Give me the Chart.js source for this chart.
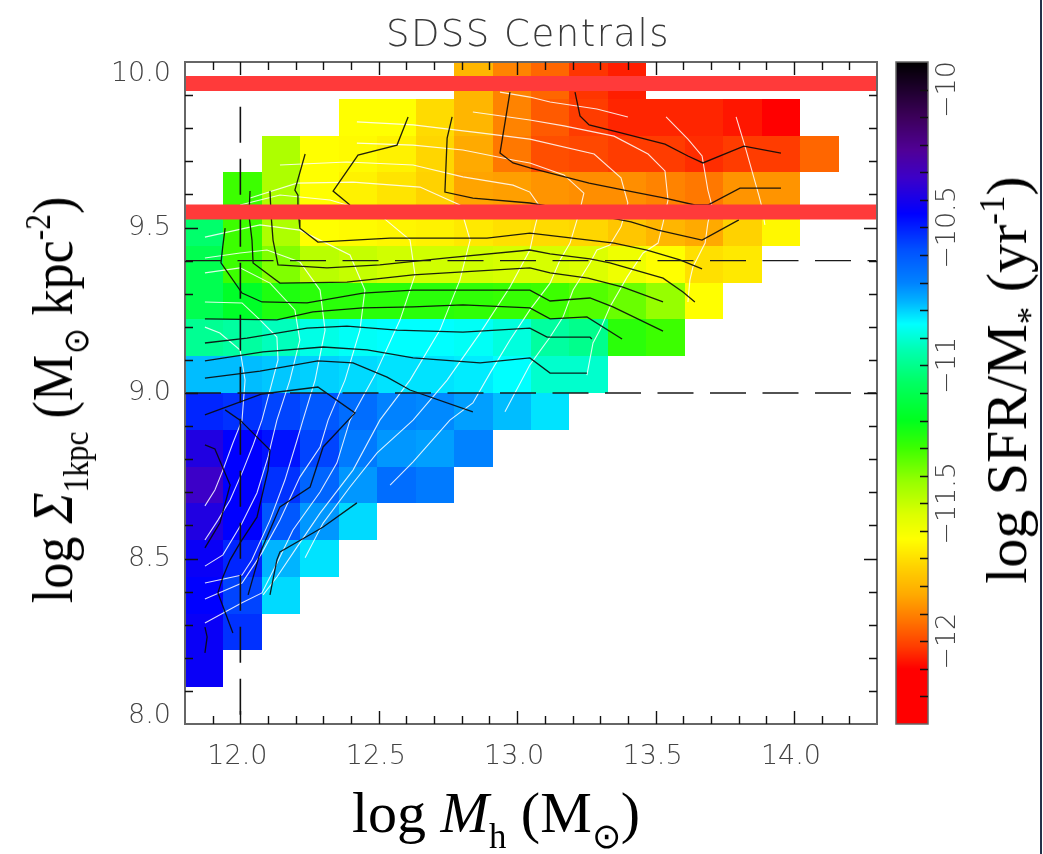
<!DOCTYPE html>
<html><head><meta charset="utf-8">
<script src="https://cdn.jsdelivr.net/npm/chart.js@4.4.1/dist/chart.umd.min.js"></script>
<style>
html,body{margin:0;padding:0;background:#fff;}
#wrap{position:relative;width:1043px;height:854px;overflow:hidden;background:#fff;}
canvas{position:absolute;top:0;}
#main{left:0;}
#cbar{left:880px;}
#title{position:absolute;left:528px;top:15px;transform:translateX(-50%);font-family:"DejaVu Sans",sans-serif;font-weight:200;font-size:37px;line-height:37px;letter-spacing:1.5px;color:#3a3a3a;white-space:nowrap;}
.lbl{position:absolute;font-family:"Liberation Serif","Times New Roman",serif;font-size:58px;line-height:58px;color:#000;white-space:nowrap;}
.lbl sub,.lbl sup{font-size:0.6em;line-height:0;}
.lbl sub{vertical-align:-0.45em;}
.lbl sup{vertical-align:0.62em;}
#xlab{left:496px;top:784px;transform:translateX(-50%);}
#ylab{left:53px;top:400px;transform:translate(-50%,-50%) rotate(-90deg) scaleX(0.9);}
#cblab{left:1007px;top:380px;transform:translate(-50%,-50%) rotate(-90deg);}
#edge{position:absolute;left:1040px;top:0;width:2px;height:854px;background:#24324a;}
</style></head>
<body>
<div id="wrap">
<canvas id="main" width="1043" height="854"></canvas>
<canvas id="cbar" width="163" height="854"></canvas>
<div id="title">SDSS Centrals</div>
<div id="xlab" class="lbl">log <i>M</i><sub>h</sub> (M<sub>⊙</sub>)</div>
<div id="ylab" class="lbl">log <i>Σ</i><sub>1kpc</sub> (M<sub>⊙</sub> kpc<sup>-2</sup>)</div>
<div id="cblab" class="lbl">log SFR/M<sub>*</sub> (yr<sup>-1</sup>)</div>
<div id="edge"></div>
</div>
<script>
// ---------------- DATA ----------------
const massRange = [11.8, 14.3];        // log Mh axis range
const densityRange = [8.0, 10.0];      // log Sigma_1kpc axis range
const nMassBins = 18;
const nDensityBins = 18;
const massTicks = [12.0, 12.5, 13.0, 13.5, 14.0];
const densityTicks = [8.0, 8.5, 9.0, 9.5, 10.0];
const ssfrRange = [-12.3, -9.9];
const ssfrTicks = [-10, -10.5, -11, -11.5, -12];

// log sSFR per cell; rows from low to high Sigma_1kpc, columns from low to high Mh
const ssfrGrid = [
  [],
  [-10.43],
  [-10.43,-10.53],
  [-10.45,-10.56,-10.81],
  [-10.43,-10.51,-10.77,-10.82],
  [-10.38,-10.45,-10.60,-10.73,-10.81],
  [-10.32,-10.45,-10.53,-10.63,-10.73,-10.65,-10.68],
  [-10.38,-10.45,-10.48,-10.56,-10.68,-10.73,-10.74,-10.70],
  [-10.51,-10.53,-10.56,-10.60,-10.65,-10.70,-10.71,-10.74,-10.78,-10.82],
  [-10.78,-10.78,-10.79,-10.80,-10.81,-10.82,-10.82,-10.83,-10.85,-10.91,-10.91],
  [-10.99,-10.97,-10.93,-10.88,-10.86,-10.85,-10.85,-10.86,-10.89,-10.97,-11.00,-11.27,-11.30],
  [-11.10,-11.18,-11.25,-11.27,-11.27,-11.27,-11.27,-11.28,-11.29,-11.30,-11.33,-11.36,-11.42,-11.63],
  [-11.10,-11.30,-11.39,-11.48,-11.50,-11.52,-11.52,-11.52,-11.53,-11.53,-11.54,-11.59,-11.63,-11.70,-11.68],
  [-11.05,-11.30,-11.46,-11.63,-11.64,-11.65,-11.66,-11.68,-11.70,-11.71,-11.72,-11.76,-11.80,-11.83,-11.73,-11.645],
  [null,-11.30,-11.46,-11.63,-11.66,-11.69,-11.73,-11.84,-11.85,-11.87,-11.88,-11.88,-11.90,-11.92,-11.87,-11.87],
  [null,null,-11.46,-11.63,-11.64,-11.66,-11.72,-11.83,-11.92,-11.99,-12.00,-12.02,-12.02,-12.04,-12.02,-12.02,-11.95],
  [null,null,null,null,-11.63,-11.63,-11.71,-11.80,-11.90,-11.97,-12.02,-12.05,-12.05,-12.05,-12.07,-12.12],
  [null,null,null,null,null,null,null,-11.80,-11.90,-11.95,-12.03,-12.06]
];

// white contours (m = log Mh, s = log Sigma_1kpc)
const whiteContours = [
  {m:[11.872,11.908,11.937,11.973,12.006,12.017,11.999,11.926,11.872], s:[8.659,8.707,8.767,8.849,8.918,9.039,9.130,9.181,9.199]},
  {m:[11.872,11.919,11.963,12.010,12.046,12.078,12.107,12.136,12.132,12.071,12.006,11.872], s:[8.556,8.616,8.677,8.767,8.843,8.918,9.009,9.100,9.169,9.221,9.272,9.275]},
  {m:[11.872,11.937,12.006,12.060,12.100,12.132,12.179,12.215,12.197,12.107,11.999,11.872], s:[8.477,8.511,8.607,8.698,8.807,8.918,9.039,9.160,9.251,9.332,9.378,9.363]},
  {m:[11.872,12.006,12.042,12.107,12.161,12.205,12.226,12.270,12.306,12.288,12.215,12.096,11.999,11.872], s:[8.426,8.450,8.496,8.616,8.737,8.858,8.918,9.039,9.190,9.311,9.396,9.432,9.423,9.408]},
  {m:[11.872,12.006,12.078,12.143,12.215,12.288,12.317,12.378,12.432,12.450,12.396,12.215,12.071,11.872], s:[8.378,8.426,8.517,8.616,8.746,8.837,8.918,9.039,9.190,9.311,9.417,9.492,9.508,9.471]},
  {m:[11.872,12.006,12.078,12.132,12.190,12.288,12.349,12.396,12.486,12.577,12.631,12.613,12.504,12.324,12.143,11.999], s:[8.305,8.366,8.396,8.486,8.586,8.701,8.789,8.918,9.054,9.221,9.357,9.462,9.538,9.583,9.598,9.568]},
  {m:[12.082,12.132,12.205,12.288,12.407,12.504,12.613,12.721,12.793,12.830,12.793,12.649,12.407,12.205,12.035], s:[8.390,8.444,8.535,8.637,8.767,8.918,9.039,9.190,9.341,9.462,9.568,9.622,9.637,9.634,9.589]},
  {m:[12.234,12.299,12.396,12.494,12.624,12.747,12.866,12.974,13.046,13.064,13.083,13.046,12.985,12.804,12.624,12.385,12.143], s:[8.502,8.607,8.716,8.819,8.918,9.039,9.181,9.320,9.432,9.502,9.562,9.607,9.628,9.653,9.689,9.698,9.689]},
  {m:[12.541,12.624,12.757,12.840,12.902,12.974,13.046,13.119,13.155,13.191,13.227,13.241,13.169,13.046,12.985,12.804,12.624,12.421], s:[8.722,8.792,8.918,8.970,9.060,9.160,9.251,9.332,9.402,9.453,9.553,9.604,9.659,9.695,9.704,9.734,9.749,9.755]},
  {m:[12.956,13.046,13.119,13.166,13.202,13.263,13.288,13.335,13.375,13.400,13.375,13.278,13.046,12.866,12.624,12.421], s:[8.943,9.085,9.169,9.230,9.311,9.393,9.432,9.447,9.502,9.574,9.650,9.722,9.767,9.786,9.810,9.819]},
  {m:[13.252,13.274,13.299,13.335,13.397,13.455,13.509,13.527,13.545,13.534,13.473,13.350,13.169,13.046,12.840], s:[9.054,9.151,9.190,9.260,9.350,9.423,9.453,9.514,9.583,9.671,9.722,9.776,9.807,9.825,9.849]},
  {m:[12.938,13.046,13.119,13.288,13.400], s:[9.909,9.894,9.879,9.858,9.834]},
  {m:[13.538,13.617,13.668,13.689,13.704,13.689,13.679,13.635,13.624,13.617], s:[9.834,9.767,9.716,9.613,9.565,9.514,9.453,9.381,9.341,9.275]},
  {m:[13.791,13.823,13.874,13.884,13.895], s:[9.834,9.746,9.595,9.562,9.508]}
];

// black contours
const blackContours = [
  {m:[12.606,12.566,12.425,12.335,12.396], s:[9.834,9.749,9.719,9.610,9.568]},
  {m:[12.765,12.747,12.739,12.840,13.046,13.227,13.411,13.509,13.668,13.801], s:[9.834,9.770,9.607,9.589,9.574,9.547,9.517,9.492,9.462,9.523]},
  {m:[12.974,12.938,12.985,13.046,13.260,13.386,13.534,13.642,13.689,13.805,13.953], s:[9.909,9.725,9.695,9.680,9.634,9.613,9.589,9.568,9.568,9.619,9.619]},
  {m:[13.209,13.227,13.260,13.361,13.534,13.617,13.671,13.819,13.953], s:[9.909,9.837,9.810,9.789,9.752,9.716,9.695,9.746,9.725]},
  {m:[12.234,12.197,12.208,12.208,12.212,12.215,12.280,12.541,12.747,12.891,13.046,13.169,13.350,13.469,13.588,13.668], s:[9.722,9.613,9.598,9.568,9.523,9.498,9.456,9.468,9.468,9.468,9.483,9.471,9.453,9.432,9.402,9.375]},
  {m:[12.107,12.111,12.118,12.136,12.313,12.504,12.747,13.046,13.119,13.263,13.335,13.527,13.599,13.642], s:[9.610,9.538,9.462,9.387,9.378,9.387,9.408,9.432,9.420,9.405,9.393,9.347,9.305,9.275]},
  {m:[12.035,12.031,12.042,12.046,12.143,12.385,12.624,12.804,13.046,13.119,13.256,13.382,13.527], s:[9.610,9.538,9.462,9.393,9.332,9.335,9.357,9.366,9.378,9.363,9.347,9.320,9.275]},
  {m:[11.945,11.937,11.930,12.006,12.078,12.241,12.443,12.624,12.804,13.046,13.119,13.263,13.346,13.527], s:[9.498,9.447,9.393,9.302,9.275,9.272,9.302,9.311,9.311,9.311,9.278,9.287,9.260,9.187]},
  {m:[11.872,12.132,12.262,12.443,12.624,12.804,13.046,13.119,13.252,13.379], s:[9.224,9.221,9.245,9.257,9.260,9.266,9.257,9.224,9.230,9.163]},
  {m:[11.872,12.024,12.241,12.385,12.566,12.804,13.046,13.108,13.263,13.270], s:[9.151,9.166,9.196,9.202,9.190,9.184,9.196,9.169,9.169,9.163]},
  {m:[11.872,12.082,12.299,12.458,12.624,12.866,13.046,13.119,13.252], s:[9.097,9.124,9.139,9.130,9.106,9.091,9.106,9.060,9.060]},
  {m:[11.872,12.071,12.280,12.407,12.530,12.613,12.840], s:[9.045,9.066,9.097,9.091,9.048,9.009,8.943]},
  {m:[11.872,11.908,11.963,11.926,11.872], s:[8.843,8.831,8.722,8.607,8.532]},
  {m:[11.945,11.999,12.107,12.100,12.060,11.999,11.963,11.937,11.919,11.973], s:[8.949,8.918,8.828,8.767,8.625,8.547,8.496,8.444,8.396,8.275]},
  {m:[11.872,12.078,12.280,12.414,12.299,12.252,12.143,12.107,12.071,12.028], s:[8.934,8.997,9.018,8.940,8.837,8.716,8.656,8.586,8.517,8.390]},
  {m:[12.421,12.299,12.262,12.143,12.132,12.107], s:[8.668,8.595,8.577,8.520,8.496,8.390]},
  {m:[11.872,11.880,11.872], s:[8.293,8.263,8.215]}
];

const redBandLevels = [9.935, 9.547];      // highlighted Sigma_1kpc bands
const dashedDensityLevels = [9.4, 9.0];    // horizontal dashed lines
const dashedMassLevel = 12.0;              // vertical dashed line
const dashedMassExtent = [9.865, 8.0];

// ---------------- STYLE ----------------
const cmapStops = [
  [-12.30,[255,0,0]],[-12.10,[255,0,0]],[-12.02,[255,60,0]],[-11.92,[255,120,0]],
  [-11.83,[255,170,0]],[-11.73,[255,210,0]],[-11.63,[255,255,0]],[-11.54,[220,255,0]],
  [-11.42,[150,255,0]],[-11.30,[60,255,0]],[-11.20,[0,255,30]],[-11.06,[0,255,100]],
  [-10.94,[0,255,180]],[-10.85,[0,255,255]],[-10.77,[0,180,255]],[-10.70,[0,130,255]],
  [-10.58,[0,80,255]],[-10.45,[0,0,255]],[-10.32,[60,0,200]],[-10.22,[80,0,150]],
  [-10.10,[60,0,90]],[-9.90,[0,0,0]]
];
function cmap(v){
  if (v <= cmapStops[0][0]) return 'rgb('+cmapStops[0][1].join(',')+')';
  for (let k=1;k<cmapStops.length;k++){
    if (v <= cmapStops[k][0]){
      const [v0,c0]=cmapStops[k-1],[v1,c1]=cmapStops[k];
      const t=(v-v0)/(v1-v0);
      return 'rgb('+c0.map((c,i)=>Math.round(c+(c1[i]-c)*t)).join(',')+')';
    }
  }
  return 'rgb('+cmapStops[cmapStops.length-1][1].join(',')+')';
}
const TICK_FONT = '200 27px "DejaVu Sans", sans-serif';
const TICK_COLOR = '#444';
const near = (a,b)=>Math.abs(a-b)<1e-6;

// ---------------- MAIN CHART ----------------
const datasets = [];
redBandLevels.forEach(l => datasets.push({
  data:[{x:massRange[0],y:l},{x:massRange[1],y:l}], showLine:true, borderColor:'#ff3a3a',
  borderWidth:15, borderCapStyle:'butt', pointRadius:0, order:0
}));
dashedDensityLevels.forEach(l => datasets.push({
  data:[{x:massRange[0],y:l},{x:massRange[1],y:l}], showLine:true, borderColor:'#1a1a1a',
  borderWidth:1.3, borderDash:[36,16.5], pointRadius:0, order:1
}));
datasets.push({
  data:[{x:dashedMassLevel,y:dashedMassExtent[0]},{x:dashedMassLevel,y:dashedMassExtent[1]}], showLine:true,
  borderColor:'#111', borderWidth:1.6, borderDash:[36,16], pointRadius:0, order:1
});
blackContours.forEach(c => datasets.push({
  data:c.m.map((m,k)=>({x:m,y:c.s[k]})), showLine:true, borderColor:'rgba(10,10,10,0.9)',
  borderWidth:1.3, pointRadius:0, order:2
}));
whiteContours.forEach(c => datasets.push({
  data:c.m.map((m,k)=>({x:m,y:c.s[k]})), showLine:true, borderColor:'rgba(255,255,255,0.85)',
  borderWidth:1.1, pointRadius:0, order:3
}));

const heatmapPlugin = {
  id:'heatmap',
  beforeDatasetsDraw(chart){
    const {ctx, scales:{x,y}} = chart;
    const dm = (massRange[1]-massRange[0])/nMassBins;
    const ds = (densityRange[1]-densityRange[0])/nDensityBins;
    ctx.save();
    ssfrGrid.forEach((row,i)=>{
      const s0 = densityRange[0]+i*ds, s1 = s0+ds;
      row.forEach((v,j)=>{
        if (v===null || v===undefined) return;
        const m0 = massRange[0]+j*dm, m1 = m0+dm;
        const px0 = Math.round(x.getPixelForValue(m0)), px1 = Math.round(x.getPixelForValue(m1));
        const py0 = Math.round(y.getPixelForValue(s1)), py1 = Math.round(y.getPixelForValue(s0));
        ctx.fillStyle = cmap(v);
        ctx.fillRect(px0,py0,px1-px0,py1-py0);
      });
    });
    ctx.restore();
  },
  afterDatasetsDraw(chart){
    const {ctx, chartArea:a, scales:{x,y}} = chart;
    ctx.save();
    ctx.strokeStyle='#666'; ctx.lineWidth=2;
    ctx.strokeRect(a.left,a.top,a.right-a.left,a.bottom-a.top);
    ctx.strokeStyle='#111'; ctx.lineWidth=1.4;
    ctx.beginPath();
    for (let k=1;k<25;k++){
      const v = massRange[0]+k*0.1;
      const px = Math.round(x.getPixelForValue(v))+0.5;
      const L = massTicks.some(t=>near(t,v)) ? 13 : 8;
      ctx.moveTo(px,a.bottom); ctx.lineTo(px,a.bottom-L);
      ctx.moveTo(px,a.top); ctx.lineTo(px,a.top+L);
    }
    for (let k=1;k<20;k++){
      const v = densityRange[0]+k*0.1;
      const py = Math.round(y.getPixelForValue(v))+0.5;
      const L = densityTicks.some(t=>near(t,v)) ? 13 : 8;
      ctx.moveTo(a.left,py); ctx.lineTo(a.left+L,py);
      ctx.moveTo(a.right,py); ctx.lineTo(a.right-L,py);
    }
    ctx.stroke();
    ctx.font = TICK_FONT; ctx.fillStyle = TICK_COLOR;
    ctx.textAlign='center'; ctx.textBaseline='middle';
    massTicks.forEach(v=>ctx.fillText(v.toFixed(1), x.getPixelForValue(v)-3, a.bottom+33));
    ctx.textAlign='right';
    densityTicks.forEach(v=>{
      const py = Math.min(Math.max(y.getPixelForValue(v), a.top+12), a.bottom-8);
      ctx.fillText(v.toFixed(1), a.left-14, py);
    });
    ctx.restore();
  }
};

new Chart(document.getElementById('main'), {
  type:'scatter',
  data:{datasets},
  options:{
    responsive:false, animation:false, devicePixelRatio:1,
    layout:{padding:{left:0,top:62,right:166,bottom:0}},
    plugins:{legend:{display:false},tooltip:{enabled:false},title:{display:false}},
    scales:{
      x:{type:'linear',min:massRange[0],max:massRange[1],grid:{display:false},border:{display:false},
         ticks:{display:false},afterFit(s){s.height=130;}},
      y:{type:'linear',min:densityRange[0],max:densityRange[1],grid:{display:false},border:{display:false},
         ticks:{display:false},afterFit(s){s.width=185;}}
    }
  },
  plugins:[heatmapPlugin]
});

// ---------------- COLORBAR ----------------
const colorbarPlugin = {
  id:'colorbar',
  afterDraw(chart){
    const {ctx, chartArea:a, scales:{y}} = chart;
    ctx.save();
    for (let py=Math.floor(a.top); py<Math.ceil(a.bottom); py++){
      ctx.fillStyle = cmap(y.getValueForPixel(py+0.5));
      ctx.fillRect(a.left,py,a.right-a.left,1);
    }
    ctx.strokeStyle='#666'; ctx.lineWidth=1.5;
    ctx.strokeRect(a.left,a.top,a.right-a.left,a.bottom-a.top);
    ctx.strokeStyle='#111'; ctx.lineWidth=1.4;
    ctx.beginPath();
    for (let k=0;k<=22;k++){
      const v = -10 - k*0.1;
      const py = Math.round(y.getPixelForValue(v))+0.5;
      ctx.moveTo(a.right,py); ctx.lineTo(a.right-8,py);
    }
    ctx.stroke();
    ctx.font = TICK_FONT; ctx.fillStyle = TICK_COLOR;
    ctx.textAlign='center'; ctx.textBaseline='middle';
    ssfrTicks.forEach(v=>{
      const py = y.getPixelForValue(v);
      ctx.save();
      ctx.translate(a.right+20, py);
      ctx.rotate(-Math.PI/2);
      ctx.fillText((v<0?'\u2212':'')+String(Math.abs(v)), 0, 0);
      ctx.restore();
    });
    ctx.restore();
  }
};

new Chart(document.getElementById('cbar'), {
  type:'scatter',
  data:{datasets:[]},
  options:{
    responsive:false, animation:false, devicePixelRatio:1,
    layout:{padding:{left:16,top:62,right:115,bottom:130}},
    plugins:{legend:{display:false},tooltip:{enabled:false}},
    scales:{
      x:{display:false,min:0,max:1},
      y:{type:'linear',min:ssfrRange[0],max:ssfrRange[1],grid:{display:false},border:{display:false},
         ticks:{display:false},afterFit(s){s.width=0;}}
    }
  },
  plugins:[colorbarPlugin]
});
</script>
</body></html>
